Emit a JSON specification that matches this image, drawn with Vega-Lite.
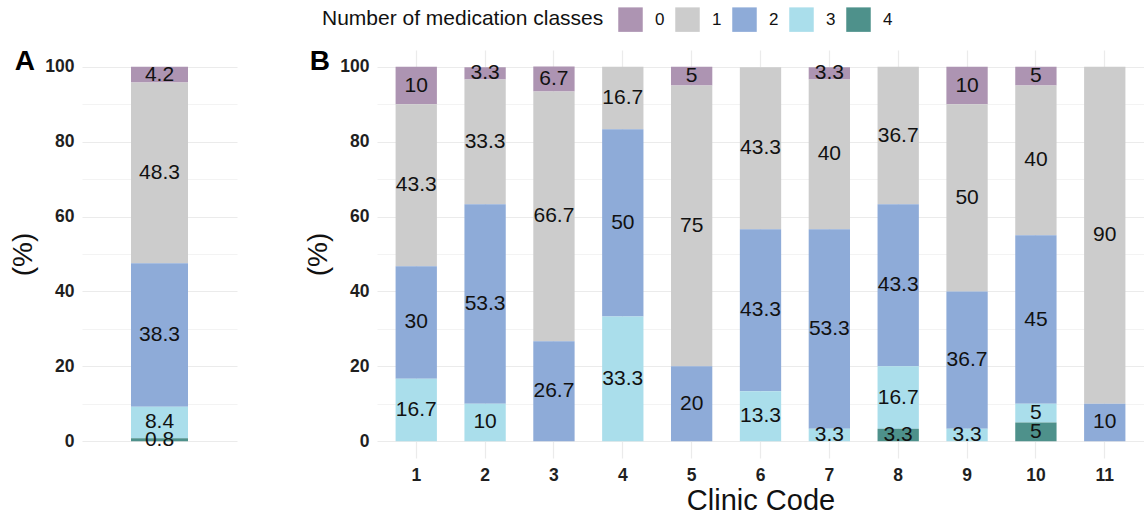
{
  "$schema": "https://vega.github.io/schema/vega-lite/v6.json",
  "padding": {"left": 9, "top": 7, "right": 0, "bottom": 0},
  "background": "white",
  "config": {
    "view": {"stroke": null},
    "font": "Liberation Sans",
    "axis": {
      "domain": false,
      "ticks": false,
      "tickSize": 0,
      "gridColor": "#ebebeb",
      "labelFont": "Liberation Sans",
      "labelFontWeight": "bold",
      "labelFontSize": 17.5,
      "labelColor": "#1f1f1f",
      "titleFont": "Liberation Sans",
      "titleFontWeight": "normal",
      "titleFontSize": 28,
      "titleColor": "#111111"
    },
    "concat": {"spacing": 67}
  },
  "datasets": {
    "overall": [
      {"grp": "All", "cls": "0", "pct": 4.2},
      {"grp": "All", "cls": "1", "pct": 48.3},
      {"grp": "All", "cls": "2", "pct": 38.3},
      {"grp": "All", "cls": "3", "pct": 8.4},
      {"grp": "All", "cls": "4", "pct": 0.8}
    ],
    "clinic": [
      {"clinic": 1, "cls": "0", "pct": 10},
      {"clinic": 1, "cls": "1", "pct": 43.3},
      {"clinic": 1, "cls": "2", "pct": 30},
      {"clinic": 1, "cls": "3", "pct": 16.7},
      {"clinic": 2, "cls": "0", "pct": 3.3},
      {"clinic": 2, "cls": "1", "pct": 33.3},
      {"clinic": 2, "cls": "2", "pct": 53.3},
      {"clinic": 2, "cls": "3", "pct": 10},
      {"clinic": 3, "cls": "0", "pct": 6.7},
      {"clinic": 3, "cls": "1", "pct": 66.7},
      {"clinic": 3, "cls": "2", "pct": 26.7},
      {"clinic": 4, "cls": "1", "pct": 16.7},
      {"clinic": 4, "cls": "2", "pct": 50},
      {"clinic": 4, "cls": "3", "pct": 33.3},
      {"clinic": 5, "cls": "0", "pct": 5},
      {"clinic": 5, "cls": "1", "pct": 75},
      {"clinic": 5, "cls": "2", "pct": 20},
      {"clinic": 6, "cls": "1", "pct": 43.3},
      {"clinic": 6, "cls": "2", "pct": 43.3},
      {"clinic": 6, "cls": "3", "pct": 13.3},
      {"clinic": 7, "cls": "0", "pct": 3.3},
      {"clinic": 7, "cls": "1", "pct": 40},
      {"clinic": 7, "cls": "2", "pct": 53.3},
      {"clinic": 7, "cls": "3", "pct": 3.3},
      {"clinic": 8, "cls": "1", "pct": 36.7},
      {"clinic": 8, "cls": "2", "pct": 43.3},
      {"clinic": 8, "cls": "3", "pct": 16.7},
      {"clinic": 8, "cls": "4", "pct": 3.3},
      {"clinic": 9, "cls": "0", "pct": 10},
      {"clinic": 9, "cls": "1", "pct": 50},
      {"clinic": 9, "cls": "2", "pct": 36.7},
      {"clinic": 9, "cls": "3", "pct": 3.3},
      {"clinic": 10, "cls": "0", "pct": 5},
      {"clinic": 10, "cls": "1", "pct": 40},
      {"clinic": 10, "cls": "2", "pct": 45},
      {"clinic": 10, "cls": "3", "pct": 5},
      {"clinic": 10, "cls": "4", "pct": 5},
      {"clinic": 11, "cls": "1", "pct": 90},
      {"clinic": 11, "cls": "2", "pct": 10}
    ]
  },
  "hconcat": [
    {
      "title": {"text": "A", "anchor": "start", "frame": "bounds", "baseline": "top", "offset": 0, "dx": 5, "dy": 26, "fontSize": 28, "fontWeight": "bold", "color": "#000000", "font": "Liberation Sans"},
      "width": 155,
      "height": 408,
      "data": {"name": "overall"},
      "transform": [
        {"stack": "pct", "groupby": ["grp"], "sort": [{"field": "cls", "order": "descending"}], "as": ["y0", "y1"]},
        {"calculate": "(datum.y0 + datum.y1) / 2", "as": "ymid"}
      ],
      "encoding": {
        "x": {"field": "grp", "type": "nominal", "axis": null, "scale": {"paddingInner": 0.4, "paddingOuter": 0.516}}
      },
      "layer": [
        {
          "mark": {"type": "bar"},
          "encoding": {
            "y": {
              "field": "y0", "type": "quantitative",
              "scale": {"domain": [-4.5, 104.5], "nice": false, "zero": false},
              "axis": {
                "title": "(%)",
                "values": [0, 10, 20, 30, 40, 50, 60, 70, 80, 90, 100],
                "labelExpr": "datum.value % 20 === 0 ? datum.label : ''",
                "grid": true,
                "gridWidth": {"condition": {"test": "datum.value % 20 === 0", "value": 1.2}, "value": 0.6},
                "labelPadding": 8,
                "titlePadding": 7
              }
            },
            "y2": {"field": "y1"},
            "color": {
              "field": "cls", "type": "nominal",
              "scale": {"domain": ["0", "1", "2", "3", "4"], "range": ["#ad94b2", "#cccccc", "#8eabd8", "#aadeeb", "#4e918b"]},
              "legend": {
                "title": "Number of medication classes",
                "orient": "none",
                "legendX": 240,
                "legendY": -43,
                "direction": "horizontal",
                "titleOrient": "left",
                "titleFontSize": 21,
                "titleFontWeight": "normal",
                "titleColor": "#111111",
                "titlePadding": 14,
                "titleBaseline": "middle",
                "titleLimit": 500,
                "labelFontSize": 17,
                "labelColor": "#111111",
                "labelOffset": 12,
                "columnPadding": 10,
                "symbolType": "square",
                "symbolSize": 600,
                "symbolStrokeWidth": 0,
                "symbolOpacity": 1,
                "padding": 0
              }
            }
          }
        },
        {
          "mark": {"type": "text", "fontSize": 21, "font": "Liberation Sans", "color": "#111111"},
          "encoding": {
            "y": {"field": "ymid", "type": "quantitative"},
            "text": {"field": "pct", "type": "nominal"}
          }
        }
      ]
    },
    {
      "title": {"text": "B", "anchor": "start", "frame": "bounds", "baseline": "top", "offset": 0, "dx": 5, "dy": 26, "fontSize": 28, "fontWeight": "bold", "color": "#000000", "font": "Liberation Sans"},
      "width": 767,
      "height": 408,
      "data": {"name": "clinic"},
      "transform": [
        {"stack": "pct", "groupby": ["clinic"], "sort": [{"field": "cls", "order": "descending"}], "as": ["y0", "y1"]},
        {"calculate": "(datum.y0 + datum.y1) / 2", "as": "ymid"}
      ],
      "encoding": {
        "x": {
          "field": "clinic", "type": "ordinal",
          "scale": {"paddingInner": 0.4, "paddingOuter": 0.27},
          "axis": {"title": "Clinic Code", "labelAngle": 0, "grid": true, "gridWidth": 1.2, "labelPadding": 8, "titlePadding": 3, "titleFontSize": 29}
        }
      },
      "layer": [
        {
          "mark": {"type": "bar"},
          "encoding": {
            "y": {
              "field": "y0", "type": "quantitative",
              "scale": {"domain": [-4.5, 104.5], "nice": false, "zero": false},
              "axis": {
                "title": "(%)",
                "values": [0, 10, 20, 30, 40, 50, 60, 70, 80, 90, 100],
                "labelExpr": "datum.value % 20 === 0 ? datum.label : ''",
                "grid": true,
                "gridWidth": {"condition": {"test": "datum.value % 20 === 0", "value": 1.2}, "value": 0.6},
                "labelPadding": 8,
                "titlePadding": 7
              }
            },
            "y2": {"field": "y1"},
            "color": {"field": "cls", "type": "nominal"}
          }
        },
        {
          "mark": {"type": "text", "fontSize": 21, "font": "Liberation Sans", "color": "#111111"},
          "encoding": {
            "y": {"field": "ymid", "type": "quantitative"},
            "text": {"field": "pct", "type": "nominal"}
          }
        }
      ]
    }
  ],
  "resolve": {"scale": {"color": "shared", "y": "independent"}, "legend": {"color": "shared"}}
}
